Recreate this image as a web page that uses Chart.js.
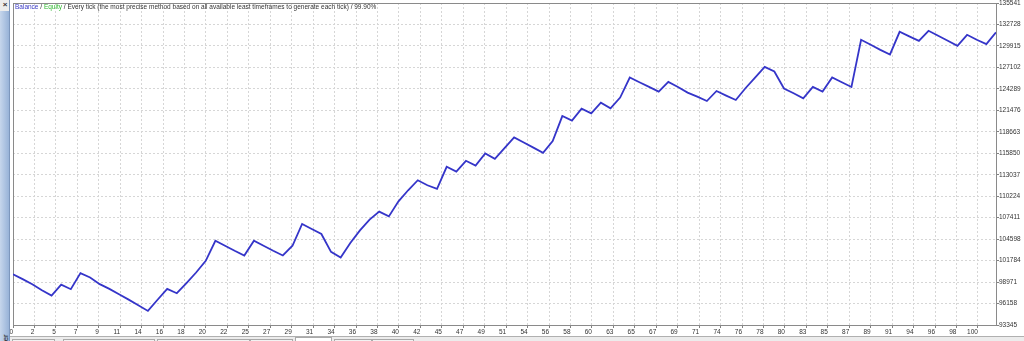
<!DOCTYPE html>
<html>
<head>
<meta charset="utf-8">
<title>Tester graph</title>
<script src="https://cdn.jsdelivr.net/npm/chart.js@4.4.1/dist/chart.umd.min.js"></script>
<style>
  html, body { margin: 0; padding: 0; background: #fff; overflow: hidden; width: 1024px; height: 341px; }
  #side { position: absolute; left: 0; top: 0; width: 10px; height: 341px; background: linear-gradient(to right, #c6d6ec, #98b3d8); border-right: 1px solid #7d97bd; box-sizing: border-box; overflow: hidden; }
  #close { position: absolute; left: 0; top: 0; width: 10px; height: 11px; background: #ececec; font: bold 8px "Liberation Sans"; text-align: center; line-height: 10px; color: #333; }
  #sideText { position: absolute; left: 1px; top: 356px; transform: rotate(-90deg); transform-origin: left top; font: 8px "Liberation Sans"; color: #222; white-space: nowrap; }
  #wrap { position: absolute; left: 10px; top: 0; width: 1014px; height: 337px; }
  #tabs { position: absolute; left: 10px; top: 336px; width: 1014px; height: 5px; background: #ececec; border-top: 1px solid #b0b0b0; overflow: hidden; }
  .tab { position: absolute; top: 2px; height: 12px; border: 1px solid #a9a9a9; background: #f2f2f2; font: 8px "Liberation Sans"; color: #333; text-align: center; padding-top: 1px; box-sizing: border-box; }
  .tab.on { top: 0; background: #fff; }
</style>
</head>
<body>
<div id="side"><div id="close">×</div><div id="sideText">Tester</div></div>
<div id="wrap"><canvas id="chart"></canvas></div>
<div id="tabs">
  <div class="tab" style="left:2px;width:43px">Settings</div>
  <div class="tab" style="left:53px;width:92px">Optimization Results</div>
  <div class="tab" style="left:147px;width:93px">Optimization Graph</div>
  <div class="tab" style="left:240px;width:43px">Results</div>
  <div class="tab on" style="left:285px;width:37px">Graph</div>
  <div class="tab" style="left:324px;width:38px">Report</div>
  <div class="tab" style="left:362px;width:42px">Journal</div>
</div>
<script>
// balance after each trade (trade 0 = deposit)
const balance = [
    100000, 99352, 98695, 97906, 97197, 98643, 98038, 100141, 99563, 98695,
    98077, 97380, 96670, 95935, 95185, 96650, 98077, 97512, 98826, 100220,
    101758, 104387, 103730, 103073, 102455, 104387, 103730, 103073, 102455, 103730,
    106582, 105925, 105268, 102930, 102193, 104085, 105741, 107147, 108200, 107580,
    109553, 110999, 112315, 111656, 111180, 114075, 113457, 114863, 114245, 115823,
    115126, 116520, 117927, 117257, 116586, 115915, 117440, 120726, 120120, 121700,
    121080, 122487, 121738, 123145, 125775, 125160, 124548, 123934, 125195, 124538,
    123800, 123275, 122698, 124012, 123408, 122830, 124367, 125775, 127167, 126562,
    124328, 123710, 123053, 124538, 123934, 125775, 125156, 124538, 130717, 130060,
    129402, 128797, 131768, 131164, 130585, 131900, 131243, 130585, 129928, 131374,
    130717, 130151, 131690
];

const xTickLabels = [0, 2, 5, 7, 9, 11, 14, 16, 18, 20, 22, 25, 27, 29, 31, 34, 36, 38, 40, 42,
    45, 47, 49, 51, 54, 56, 58, 60, 63, 65, 67, 69, 71, 74, 76, 78, 80, 83, 85, 87,
    89, 91, 94, 96, 98, 100];

const yTickLabels = [93345, 96158, 98971, 101784, 104598, 107411, 110224, 113037,
    115850, 118663, 121476, 124289, 127102, 129915, 132728, 135541];

const xGridStep = 2.225;

const titleParts = [
    ["Balance", "#3a3ac6"],
    [" / ", "#333333"],
    ["Equity", "#2fb82f"],
    [" / Every tick (the most precise method based on all available least timeframes to generate each tick) / 99.90%", "#333333"]
];

const fontName = '"Liberation Sans", Arial, sans-serif';

const frame = {
    id: "frame",
    beforeDatasetsDraw(chart) {
        const a = chart.chartArea;
        const c = chart.ctx;
        c.save();
        c.strokeStyle = "#8a8a8a";
        c.lineWidth = 1;
        c.strokeRect(Math.round(a.left) + 0.5, Math.round(a.top) + 0.5,
            Math.round(a.right - a.left), Math.round(a.bottom - a.top));
        c.restore();
    },
    afterDraw(chart) {
        const c = chart.ctx;
        c.save();
        c.font = "6.5px " + fontName;
        c.textBaseline = "middle";
        let x = chart.chartArea.left + 2;
        titleParts.forEach(p => {
            c.fillStyle = p[1];
            c.fillText(p[0], x, 7);
            x += c.measureText(p[0]).width;
        });
        c.restore();
    }
};

const ctx = document.getElementById("chart");

new Chart(ctx, {
    type: "line",
    data: {
        datasets: [{
            label: "Balance",
            data: balance.map((v, i) => ({ x: i, y: v })),
            borderColor: "#3535c9",
            borderWidth: 1.8,
            pointRadius: 0,
            tension: 0
        }]
    },
    options: {
        responsive: true,
        maintainAspectRatio: false,
        animation: false,
        devicePixelRatio: 1,
        layout: { padding: { left: 3, top: 3, right: 0, bottom: 0 } },
        plugins: { legend: { display: false }, tooltip: { enabled: false } },
        scales: {
            x: {
                type: "linear",
                min: 0,
                max: balance.length - 1,
                afterBuildTicks: s => { s.ticks = xTickLabels.map((_, k) => ({ value: k * xGridStep })); },
                afterFit: s => { s.height = 12; s.paddingLeft = 0; s.paddingRight = 0; },
                grid: { color: "#d6d6d6", tickColor: "#808080", tickLength: 3, drawOnChartArea: true },
                border: { display: false, dash: [2, 2] },
                ticks: {
                    autoSkip: false, maxRotation: 0, padding: 0, align: "end",
                    color: "#333", font: { family: fontName, size: 6.5 },
                    callback: (v, i) => xTickLabels[i]
                }
            },
            y: {
                position: "right",
                min: yTickLabels[0],
                max: yTickLabels[yTickLabels.length - 1],
                afterBuildTicks: s => { s.ticks = yTickLabels.map(v => ({ value: v })); },
                afterFit: s => { s.width = 28; s.paddingTop = 0; s.paddingBottom = 0; },
                grid: { color: "#d6d6d6", tickColor: "#808080", tickLength: 3 },
                border: { display: false, dash: [2, 2] },
                ticks: {
                    padding: 0, color: "#333", font: { family: fontName, size: 6.5 },
                    callback: v => String(v)
                }
            }
        }
    },
    plugins: [frame]
});
</script>
</body>
</html>
